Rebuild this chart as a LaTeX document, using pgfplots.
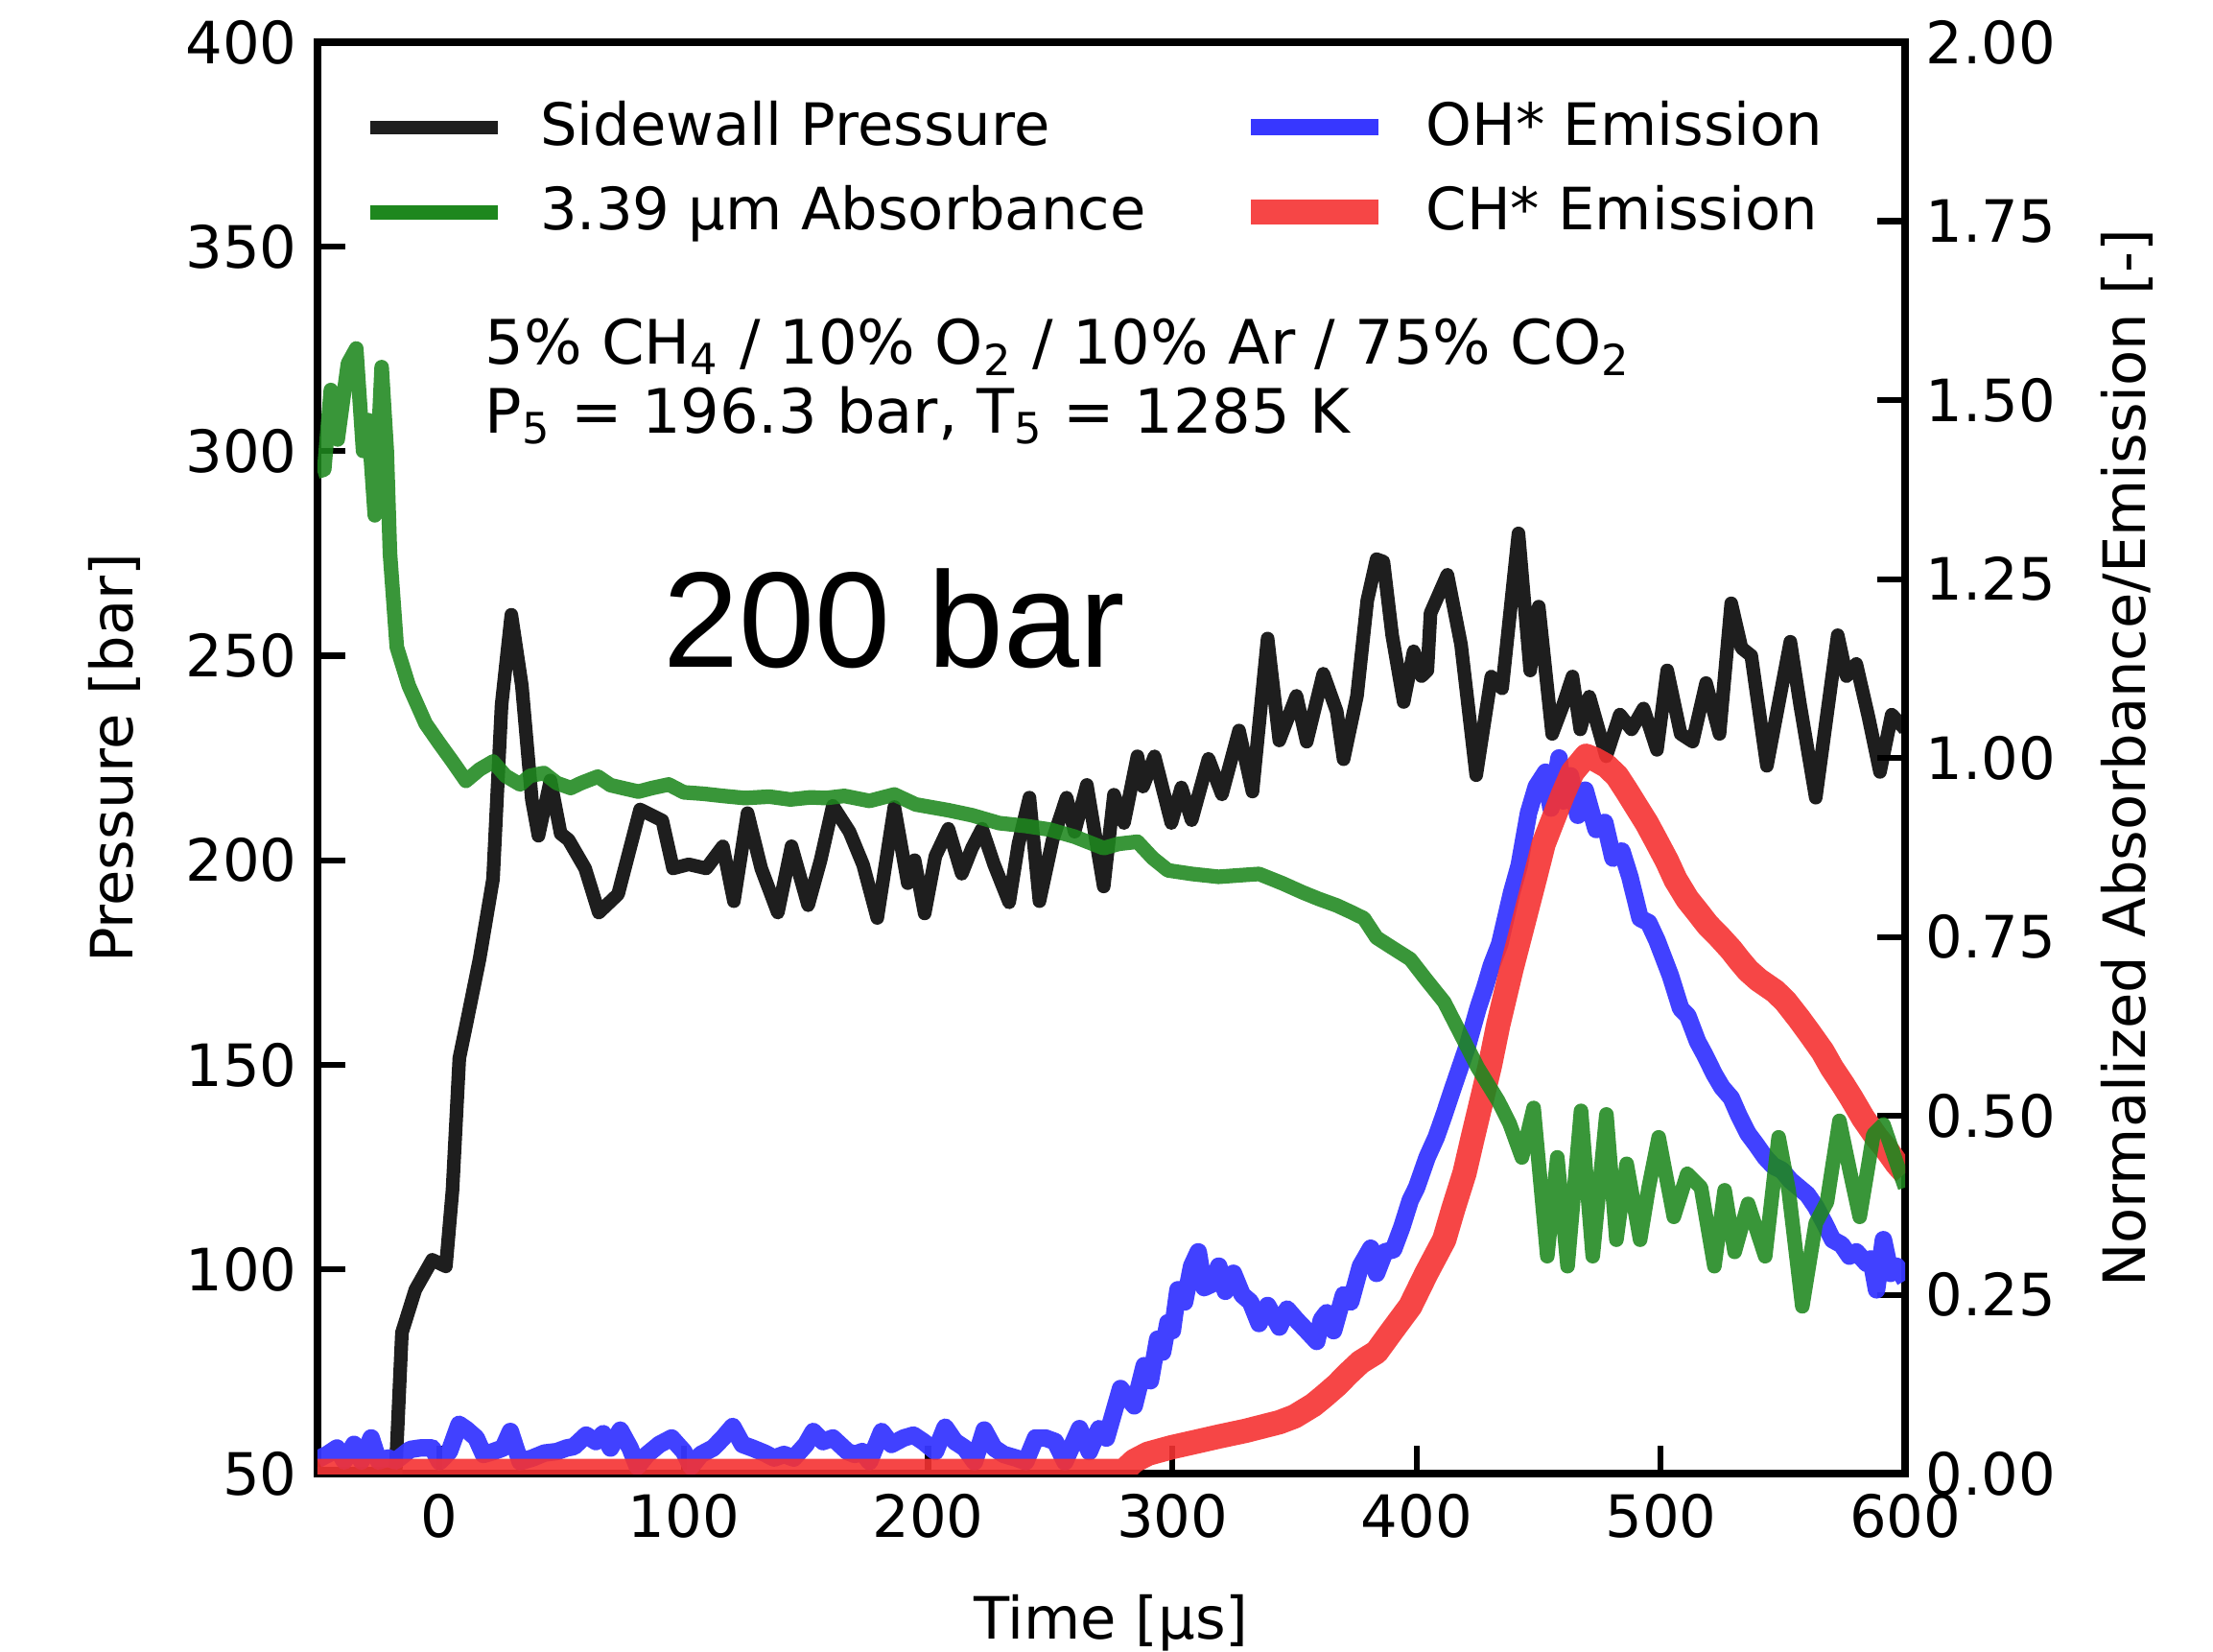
\documentclass[12pt,border=0pt]{standalone}
\usepackage{fontspec}
\setmainfont{DejaVu Sans}
\newfontfamily\libsans{Liberation Sans}
\usepackage{pgfplots}
\pgfplotsset{compat=1.18}

\definecolor{pblack}{RGB}{30,30,30}
\definecolor{pgreen}{RGB}{30,135,30}
\definecolor{pblue}{RGB}{55,55,255}
\definecolor{pred}{RGB}{245,50,50}

\pgfplotsset{
  common/.style={
    width=11.48cm, height=10.35cm, scale only axis,
    xmin=-50, xmax=600,
    tick align=inside,
    major tick length=0.2cm,
    every tick/.style={black, line width=1.2pt},
    axis line style={line width=1.5pt},
    /pgf/number format/assume math mode=true,
    every axis plot/.append style={line join=round},
  },
}

\begin{document}
\begin{tikzpicture}
  % left axis: pressure
  \begin{axis}[common,
      name=ax,
      ymin=50, ymax=400,
      xtick={0,100,...,600},
      ytick={50,100,...,400},
      tick pos=left,
      xlabel={Time [µs]},
      ylabel={Pressure [bar]},
      every axis x label/.style={at={(axis description cs:0.5,-0.104)},anchor=center,inner sep=0pt},
      every axis y label/.style={at={(axis description cs:-0.128,0.5)},rotate=90,anchor=center},
    ]
    \addplot[pblack, line width=2.8pt] coordinates {
      (-50,50) (-18,50) (-15.4,84.5) (-9.9,95) (-3,102.3) (2.6,100.7) (5.3,119.3) (8.1,151.6)
      (10.9,159.7) (16.4,175.9) (21.9,195.4) (25.4,238) (29.4,260) (33.7,242.7) (37.8,214.8)
      (40.5,206) (45.4,219.5) (49.6,206.5) (52.8,205) (59.6,198) (65.2,187.2) (73.1,191.7)
      (82.1,212.4) (91.2,209.7) (95.6,198) (102,199) (109.2,198) (116,203.4) (120.5,190)
      (126.1,211.5) (131.7,198) (138.5,187.2) (144.1,203.4) (150.9,189) (156,200) (161,213.3)
      (167.8,207) (173.4,198.9) (179.2,185.9) (186.2,213) (191.7,194.4) (194.5,200) (198.6,187)
      (203,201) (208.3,207.7) (213.8,196.7) (218,203) (222.1,207.7) (227,199) (233.2,189.7)
      (237,204) (241.5,215.3) (245.6,190) (251,205) (256.7,215.3) (260,207) (265,218.4)
      (271.9,193.6) (276.1,216) (280.2,209.1) (285.7,225.4) (288,218) (292.7,225.4) (299.6,209.1)
      (303.7,217.8) (307.9,209.8) (314.8,224.8) (320.3,216.1) (327.3,231.7) (332.8,216.8)
      (339,254.2) (343.8,229.3) (350.8,240.2) (355,229) (361.8,245.6) (367.3,236.4) (370.1,224.7)
      (375.6,240.2) (379.8,263.5) (383.6,273.6) (386.4,273) (390,255) (394.7,238.7) (398.8,251.1)
      (402,245) (404.4,246.4) (405.7,260.4) (412.6,269.8) (418.2,252.7) (424.4,220.8) (430.6,244.9)
      (435,242) (441.7,279.9) (446.5,246.4) (450,262) (455.5,230.9) (460,238) (463.8,244.9)
      (467,232) (470.7,240) (477.6,225.4) (483.2,235.6) (488,232) (492.9,237.1) (498.4,227)
      (502.6,246.4) (508.1,230.9) (513,229) (518.5,243.3) (524,230.9) (528.8,262.8) (533,251.9)
      (537,250) (543.4,223.1) (553,253.4) (557,238) (563.4,215.3) (572.4,255) (576,245) (580,248)
      (585,235) (589.7,221.6) (594.5,235.6) (600,232)
    };
    \node[anchor=base west, inner sep=0pt, font=\fontsize{12.6}{15}\selectfont] at (axis cs:18.2,321.4)
      {5\% CH\textsubscript{4} / 10\% O\textsubscript{2} / 10\% Ar / 75\% CO\textsubscript{2}};
    \node[anchor=base west, inner sep=0pt, font=\fontsize{12.6}{15}\selectfont] at (axis cs:18.2,304.5)
      {P\textsubscript{5} = 196.3 bar, T\textsubscript{5} = 1285 K};
    \node[anchor=base, inner sep=0pt, font=\fontsize{28}{30}\libsans] at (axis cs:186.3,247.2) {200 bar};
  \end{axis}

  % right axis: normalized absorbance / emission
  \begin{axis}[common,
      ymin=0, ymax=2,
      axis y line*=right, axis x line=none,
      ytick={0,0.25,...,2},
      yticklabel style={/pgf/number format/.cd, fixed, fixed zerofill, precision=2},
      scaled y ticks=false,
      ylabel={Normalized Absorbance/Emission [-]},
      every axis y label/.style={at={(axis description cs:1.14,0.5)},rotate=90,anchor=center},
      legend columns=2,
      legend cell align=left,
      legend image code/.code={\draw[#1] (0cm,0cm) -- (0.92cm,0cm);},
      legend style={draw=none, fill=none, at={(axis description cs:0.019,0.97)}, anchor=north west,
        nodes={inner sep=1pt}, row sep=0.16cm,
        /tikz/every odd column/.append style={column sep=0.22cm},
        /tikz/every even column/.append style={column sep=0.64cm}},
    ]
    \addlegendimage{pblack, line width=2.8pt}
    \addlegendentry{Sidewall Pressure}
    \addlegendimage{pblue, line width=3.2pt}
    \addlegendentry{OH* Emission}
    \addlegendimage{pgreen, line width=3pt}
    \addlegendentry{3.39 µm Absorbance}
    \addlegendimage{pred, line width=5pt, opacity=0.9}
    \addlegendentry{CH* Emission}

    % OH* emission
    \addplot[pblue, line width=3.6pt, opacity=0.95, forget plot] coordinates {
      (-50,0.02) (-46,0.027) (-42,0.036) (-39,0.018) (-35,0.041) (-32,0.018) (-28,0.05) (-25,0.018)
      (-21,0.022) (-18,0.018) (-12,0.034) (-8,0.036) (-3,0.036) (0,0.017) (4,0.031) (8,0.069)
      (11,0.062) (15,0.05) (18,0.027) (22,0.031) (26,0.036) (29,0.059) (33,0.017) (38,0.022)
      (43,0.029) (48,0.031) (52,0.036) (55,0.038) (60,0.054) (64,0.045) (67,0.056) (70,0.036)
      (74,0.061) (78,0.036) (81,0.01) (85,0.027) (90,0.041) (95,0.05) (100,0.031) (103,0.01)
      (107,0.027) (112,0.036) (116,0.05) (120,0.066) (124,0.041) (128,0.036) (133,0.029) (137,0.022)
      (141,0.027) (145,0.022) (150,0.041) (153,0.059) (157,0.045) (161,0.05) (167,0.031) (170,0.027)
      (173,0.031) (176,0.017) (181,0.059) (185,0.041) (190,0.05) (194,0.054) (198,0.045) (203,0.031)
      (207,0.065) (211,0.045) (215,0.036) (219,0.017) (223,0.061) (227,0.036) (231,0.027) (236,0.022)
      (240,0.017) (244,0.05) (248,0.05) (252,0.045) (256,0.017) (262,0.063) (266,0.031) (270,0.063)
      (273,0.05) (278.8,0.119) (284.4,0.095) (288.5,0.151) (291,0.13) (294,0.188) (296,0.17)
      (298.2,0.211) (300,0.2) (302.3,0.257) (305,0.24) (307.9,0.29) (310.6,0.31) (313,0.26)
      (316.2,0.265) (319,0.29) (321.7,0.255) (325,0.28) (328.6,0.25) (332,0.24) (335.5,0.21)
      (339,0.235) (343.8,0.205) (347,0.23) (350.8,0.215) (355,0.2) (359.1,0.185) (361,0.215)
      (363.2,0.225) (366,0.2) (370.1,0.25) (373,0.24) (377,0.29) (381.2,0.315) (383.6,0.28)
      (387,0.31) (390.5,0.313) (394,0.345) (397.4,0.382) (400,0.4) (404.3,0.442) (408,0.47)
      (411.3,0.502) (415,0.54) (418.2,0.572) (421,0.6) (425.1,0.65) (428,0.68) (430.6,0.71)
      (434,0.74) (438.9,0.812) (442,0.85) (445.8,0.923) (449,0.96) (452.8,0.98) (455,0.93)
      (458.3,1.0) (460,0.94) (463,0.975) (466,0.92) (469,0.955) (473.5,0.9) (477,0.91) (480.4,0.86)
      (484,0.87) (487.3,0.834) (491.5,0.776) (495,0.77) (498.4,0.745) (503.9,0.696) (508.1,0.65)
      (511,0.64) (515,0.604) (518,0.585) (521.9,0.558) (525,0.54) (528.8,0.525) (532,0.5)
      (535.7,0.475) (539,0.46) (542.7,0.442) (546,0.43) (549.6,0.424) (553,0.41) (556.5,0.4)
      (560,0.39) (563.4,0.373) (567,0.35) (570.3,0.327) (574,0.32) (577.2,0.304) (580,0.31)
      (584.2,0.294) (586,0.3) (588.3,0.257) (591.1,0.327) (594,0.28) (596.6,0.29) (600,0.27)
    };
    % CH* emission
    \addplot[pred, line width=5pt, opacity=0.9, forget plot] coordinates {
      (-50,0.004) (280,0.004) (284.4,0.018) (290,0.028) (299.6,0.037) (310,0.045) (319,0.052)
      (330,0.06) (343.8,0.072) (350,0.08) (357.7,0.096) (362,0.108) (367.4,0.124) (372,0.14)
      (377,0.156) (383.6,0.17) (390,0.2) (397.4,0.234) (404,0.28) (411.3,0.327) (415,0.37)
      (419.6,0.42) (423,0.47) (426.5,0.52) (430,0.57) (433.4,0.627) (438.9,0.706) (443,0.76)
      (448.6,0.834) (452,0.88) (456.9,0.923) (460,0.95) (463.8,0.98) (469.4,1.003) (473,0.998)
      (477.7,0.989) (482,0.975) (486,0.954) (490,0.932) (494.2,0.909) (498,0.885) (502.5,0.856)
      (506,0.83) (510.8,0.803) (515,0.785) (519.1,0.767) (524,0.75) (528.8,0.732) (532,0.718)
      (535.7,0.703) (540,0.69) (546.8,0.674) (551,0.66) (556.5,0.636) (561,0.615) (566.2,0.59)
      (570,0.567) (574.5,0.544) (578,0.525) (582.8,0.497) (588.3,0.47) (592,0.455) (596.6,0.433)
      (600,0.42)
    };
    % 3.39 um absorbance
    \addplot[pgreen, line width=3pt, opacity=0.88, forget plot] coordinates {
      (-50,1.4) (-47.2,1.403) (-44.5,1.514) (-41.7,1.445) (-37.5,1.551) (-34.1,1.572) (-31.3,1.429)
      (-29.2,1.472) (-26.5,1.339) (-23.7,1.546) (-21.6,1.429) (-20.3,1.286) (-17.5,1.155)
      (-12.6,1.101) (-5.7,1.048) (-0.2,1.021) (5.3,0.995) (10.8,0.968) (16.4,0.984) (21.9,0.995)
      (27,0.975) (33,0.963) (37,0.975) (42.7,0.979) (48,0.965) (53.7,0.958) (58,0.965) (64.8,0.974)
      (70,0.962) (75,0.958) (81.4,0.953) (87,0.958) (93.8,0.963) (100,0.952) (108,0.95) (116,0.947)
      (125,0.944) (135,0.946) (143.6,0.942) (152,0.945) (158,0.944) (165.7,0.947) (176,0.94)
      (186.2,0.949) (195,0.935) (208.3,0.927) (218,0.92) (229.1,0.909) (240,0.905) (249.8,0.9)
      (260,0.89) (271.9,0.874) (278,0.88) (285.7,0.883) (292,0.86) (298.2,0.843) (308,0.838)
      (318.9,0.834) (327,0.836) (335.5,0.838) (345,0.825) (353.5,0.812) (360,0.803) (367.3,0.794)
      (373,0.785) (378.4,0.776) (383.6,0.749) (390,0.735) (397.4,0.719) (404,0.69) (411.3,0.659)
      (418.2,0.613) (425.1,0.567) (433.4,0.521) (438,0.49) (443.1,0.442) (447.9,0.511) (453.5,0.304)
      (457.6,0.442) (461.8,0.29) (467.3,0.507) (472.1,0.304) (477.7,0.502) (481.8,0.327) (486,0.433)
      (491.5,0.327) (495,0.4) (499.1,0.47) (505.3,0.359) (510.8,0.419) (516.4,0.4) (521.9,0.29)
      (526.1,0.396) (530.2,0.31) (535.7,0.377) (542.7,0.304) (548.2,0.47) (552.3,0.396) (557.9,0.234)
      (563.4,0.35) (568,0.38) (573.1,0.493) (577.3,0.424) (581.4,0.359) (587,0.474) (591.1,0.488)
      (596.6,0.433) (600,0.4)
    };
  \end{axis}

  % page margins as in the reference
  \path (ax.south west) ++(-2.295cm,-1.283cm);
  \path (ax.north east) ++(2.226cm,0.305cm);
\end{tikzpicture}
\end{document}
